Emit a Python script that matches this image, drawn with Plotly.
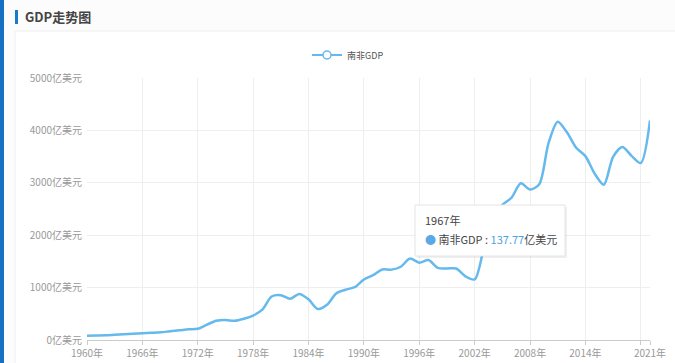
import plotly.graph_objects as go

years = list(range(1960, 2022))
gdp = [80.0, 84.2, 89.4, 99.4, 110.0, 119.0, 129.0, 137.77, 148.0, 167.0,
       184.0, 203.0, 214.0, 293.0, 368.0, 382.0, 366.0, 406.0, 467.0, 578.0,
       829.8, 855.0, 786.0, 880.0, 776.0, 591.0, 671.0, 889.0, 959.0, 1007.0,
       1156.0, 1239.0, 1345.0, 1343.0, 1398.0, 1555.0, 1476.0, 1526.0, 1378.0, 1366.0,
       1364.0, 1215.0, 1157.0, 1753.0, 2286.0, 2578.0, 2716.0, 2990.0, 2871.0, 2972.0,
       3753.0, 4164.0, 3963.0, 3668.0, 3509.0, 3176.0, 2964.0, 3496.0, 3683.0, 3514.0,
       3376.0, 4190.0]
x_tick_vals = [1960, 1966, 1972, 1978, 1984, 1990, 1996, 2002, 2008, 2014, 2020, 2021]
x_tick_text = ["1960年", "1966年", "1972年", "1978年", "1984年", "1990年", "1996年",
               "2002年", "2008年", "2014年", "", "2021年"]
y_tick_vals = [0, 1000, 2000, 3000, 4000, 5000]
y_tick_text = ["0亿美元", "1000亿美元", "2000亿美元", "3000亿美元", "4000亿美元", "5000亿美元"]
series_name = "南非GDP"
tip_year = "1967年"
tip_value = "137.77"

LINE = "#66b9ec"
FONT = "Noto Sans CJK SC"

W, H = 675, 363
L, R, T, B = 87, 25, 78, 23
PW, PH = W - L - R, H - T - B


def px(x):
    return (x - L) / PW


def py(y):
    return (H - B - y) / PH


fig = go.Figure()
fig.add_trace(go.Scatter(x=years, y=gdp, mode="lines", name=series_name,
                         line=dict(color=LINE, width=2.5, shape="spline", smoothing=0.8),
                         showlegend=False, hoverinfo="skip"))
fig.add_trace(go.Scatter(x=[None], y=[None], mode="lines+markers", name=series_name,
                         line=dict(color=LINE, width=2),
                         marker=dict(symbol="circle", size=8, color="white",
                                     line=dict(color=LINE, width=1.5))))

shapes = [
    dict(type="rect", xref="paper", yref="paper", x0=px(0), x1=px(4), y0=py(H + 10), y1=py(-10),
         fillcolor="#1570c4", line=dict(width=0), layer="below"),
    dict(type="rect", xref="paper", yref="paper", x0=px(15), x1=px(W + 20), y0=py(H + 20), y1=py(31),
         fillcolor="white", line=dict(color="#eeeeee", width=1), layer="below"),
    dict(type="rect", xref="paper", yref="paper", x0=px(15), x1=px(18), y0=py(24), y1=py(10),
         fillcolor="#1a7bc9", line=dict(width=0), layer="below"),
    # tooltip box
    dict(type="rect", xref="paper", yref="paper", x0=px(417), x1=px(567), y0=py(258), y1=py(207),
         fillcolor="rgba(0,0,0,0.06)", line=dict(width=0), layer="above"),
    dict(type="rect", xref="paper", yref="paper", x0=px(415), x1=px(565), y0=py(256), y1=py(205),
         fillcolor="white", line=dict(color="#e4e4e4", width=1), layer="above"),
]

annotations = [
    dict(xref="paper", yref="paper", x=px(23), y=py(17), xanchor="left", yanchor="middle",
         text="<b>GDP走势图</b>", showarrow=False,
         font=dict(family=FONT, size=13, color="#444444")),
    dict(xref="paper", yref="paper", x=px(423), y=py(220), xanchor="left", yanchor="middle",
         text=tip_year, showarrow=False,
         font=dict(family=FONT, size=11, color="#444444")),
    dict(xref="paper", yref="paper", x=px(423), y=py(239), xanchor="left", yanchor="middle",
         text=(f"<span style='color:#5aa8e6'>●</span> {series_name} : "
               f"<span style='color:#4aa3df'>{tip_value}</span>亿美元"),
         showarrow=False, font=dict(family=FONT, size=11, color="#444444")),
]

fig.update_layout(
    width=W, height=H,
    margin=dict(l=L, r=R, t=T, b=B, autoexpand=False),
    paper_bgcolor="#fcfcfc", plot_bgcolor="white",
    font=dict(family=FONT, size=10, color="#999999"),
    shapes=shapes, annotations=annotations,
    legend=dict(orientation="h", x=px(348), xanchor="center", y=py(55), yanchor="middle",
                font=dict(family=FONT, size=9, color="#555555"), bgcolor="rgba(0,0,0,0)"),
    xaxis=dict(range=[1960, 2021], tickmode="array", tickvals=x_tick_vals, ticktext=x_tick_text,
               showgrid=True, gridcolor="#eeeeee", zeroline=False, automargin=False,
               showline=True, linecolor="#cccccc", linewidth=1,
               ticks="outside", ticklen=4, tickcolor="#cccccc",
               tickfont=dict(family=FONT, size=10, color="#999999")),
    yaxis=dict(range=[0, 5000], tickmode="array", tickvals=y_tick_vals, ticktext=y_tick_text,
               showgrid=True, gridcolor="#eeeeee", zeroline=False, showline=False,
               ticks="", ticklabelstandoff=4, automargin=False,
               tickfont=dict(family=FONT, size=10, color="#999999")),
)

fig.write_html("out.html", config={"displayModeBar": False},
               post_script="document.body.style.margin='0';document.body.style.overflow='hidden';")
